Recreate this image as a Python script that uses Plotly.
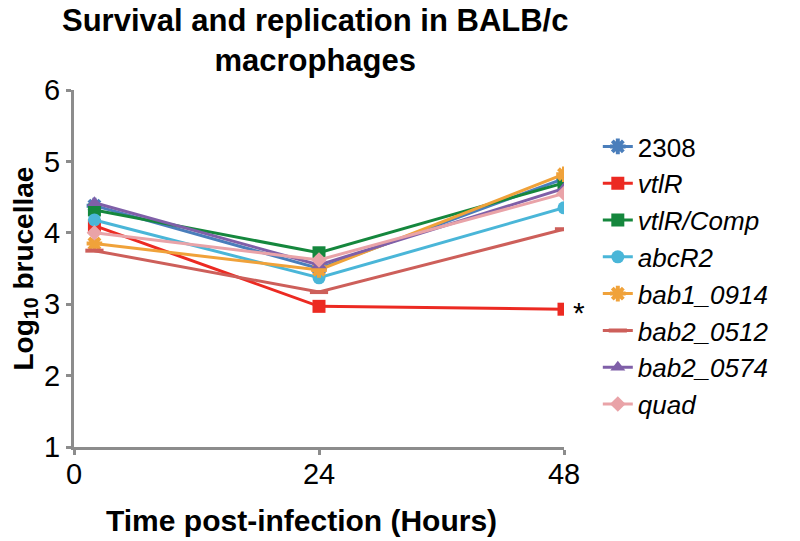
import plotly.graph_objects as go

hours = [2, 24, 48]
names = ["2308", "vtlR", "vtlR/Comp", "abcR2", "bab1_0914", "bab2_0512", "bab2_0574", "quad"]
s_2308 = [4.38, 3.50, 4.76]
s_vtlR = [4.10, 2.97, 2.93]
s_comp = [4.32, 3.72, 4.70]
s_abcR2 = [4.18, 3.37, 4.35]
s_bab1_0914 = [3.85, 3.48, 4.82]
s_bab2_0512 = [3.75, 3.17, 4.05]
s_bab2_0574 = [4.42, 3.55, 4.62]
s_quad = [4.00, 3.62, 4.55]
series = [s_2308, s_vtlR, s_comp, s_abcR2, s_bab1_0914, s_bab2_0512, s_bab2_0574, s_quad]

colors = ["#4a7ebb", "#ec2a22", "#15873d", "#4ab6d8", "#f0a23a", "#cd5f5a", "#7f5fa8", "#e9a3a8"]
symbols = ["asterisk-open", "square", "square", "circle", "asterisk-open", "line-ew-open", "triangle-up", "diamond"]
sizes = [13, 13, 13, 13, 13, 13, 13, 12]

REG = "Liberation Sans, Arial"

fig = go.Figure()
for i, (n, vals) in enumerate(zip(names, series)):
    lbl = n if n == "2308" else "<i>" + n + "</i>"
    sym = symbols[i]
    mk = dict(color=colors[i], size=sizes[i], symbol=sym)
    if sym.endswith("open"):
        mk["line"] = dict(color=colors[i], width=4)
    fig.add_trace(go.Scatter(
        x=hours, y=vals, mode="lines+markers", name=lbl,
        line=dict(color=colors[i], width=3), marker=mk,
        legendgroup=n,
    ))

fig.add_annotation(x=48, y=s_vtlR[2], text="*", showarrow=False,
                   xanchor="left", yanchor="middle", xshift=7, yshift=-3,
                   font=dict(size=30, color="black", family=REG))

# chart title
fig.add_annotation(xref="paper", yref="paper", x=0.492, y=1.249,
                   xanchor="center", yanchor="top", showarrow=False,
                   text="<b>Survival and replication in BALB/c<br>macrophages</b>",
                   font=dict(size=31, color="black", family=REG))
# x axis title
fig.add_annotation(xref="paper", yref="paper", x=0.465, y=-0.207,
                   xanchor="center", yanchor="middle", showarrow=False,
                   text="<b>Time post-infection (Hours)</b>",
                   font=dict(size=30, color="black", family=REG))
# y axis title
fig.add_annotation(xref="paper", yref="paper", x=-0.1, y=0.5,
                   xanchor="center", yanchor="middle", showarrow=False, textangle=-90,
                   text="<b>Log<sub>10</sub> brucellae</b>",
                   font=dict(size=28, color="black", family=REG))

axis_common = dict(showline=True, linecolor="#8c8c8c", linewidth=3,
                   ticks="outside", tickcolor="#8c8c8c", tickwidth=3, ticklen=5,
                   showgrid=False, zeroline=False, automargin=False,
                   tickfont=dict(size=29, color="black", family=REG))

fig.update_layout(
    width=800, height=541,
    paper_bgcolor="white", plot_bgcolor="white",
    margin=dict(l=66, r=244, t=82, b=102, autoexpand=False),
    xaxis=dict(range=[0, 48], tickvals=[0, 24, 48], ticktext=["0", "24", "48"],
               ticklabelstandoff=-6, **axis_common),
    yaxis=dict(range=[1, 6], tickvals=[1, 2, 3, 4, 5, 6], **axis_common),
    legend=dict(x=1.069, y=0.9076, xanchor="left", yanchor="top",
                font=dict(size=26, color="black", family=REG),
                tracegroupgap=0, itemwidth=30, bgcolor="rgba(0,0,0,0)"),
    showlegend=True,
)

fig.write_html("out.html")
